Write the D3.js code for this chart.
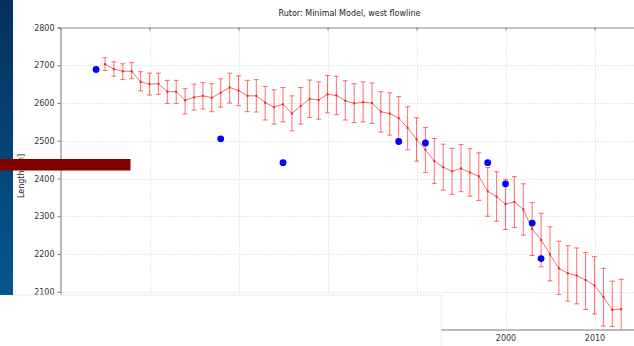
<!DOCTYPE html>
<html>
<head>
<meta charset="utf-8">
<script src="https://cdn.jsdelivr.net/npm/d3@7"></script>
<style>
  body { margin: 0; background: #fff; }
  svg { display: block; font-family: "DejaVu Sans", sans-serif; }
</style>
</head>
<body>
<div id="chart"></div>
<script>
// modelled length (red) with its uncertainty band
const modelYears = [1955,1956,1957,1958,1959,1960,1961,1962,1963,1964,
  1965,1966,1967,1968,1969,1970,1971,1972,1973,1974,
  1975,1976,1977,1978,1979,1980,1981,1982,1983,1984,
  1985,1986,1987,1988,1989,1990,1991,1992,1993,1994,
  1995,1996,1997,1998,1999,2000,2001,2002,2003,2004,
  2005,2006,2007,2008,2009,2010,2011,2012,2013]
const modelLength = [2703,2690,2684,2684,2656,2650,2651,2630,2630,2607,
  2615,2619,2614,2627,2641,2633,2619,2619,2601,2589,
  2597,2572,2592,2611,2608,2623,2620,2606,2599,2602,
  2600,2577,2572,2560,2534,2504,2476,2446,2430,2419,
  2427,2416,2406,2366,2352,2332,2338,2318,2266,2237,
  2199,2162,2149,2143,2131,2117,2086,2052,2054]
const modelUpper = [2720,2709,2704,2707,2683,2679,2679,2660,2660,2638,
  2650,2654,2651,2664,2679,2672,2660,2662,2644,2635,
  2641,2619,2641,2661,2656,2673,2671,2659,2651,2656,
  2653,2630,2627,2617,2590,2561,2535,2506,2491,2480,
  2490,2479,2468,2429,2418,2398,2405,2386,2336,2308,
  2272,2234,2222,2216,2204,2193,2162,2128,2133]
const modelLower = [2686,2671,2662,2664,2632,2621,2623,2599,2599,2571,
  2581,2584,2577,2589,2600,2593,2577,2576,2555,2544,
  2550,2526,2544,2562,2557,2574,2569,2555,2548,2550,
  2546,2523,2515,2502,2476,2446,2416,2387,2369,2358,
  2365,2353,2342,2300,2287,2265,2270,2250,2196,2166,
  2129,2093,2075,2068,2053,2041,2009,2008,1995]

// observed length (blue)
const obsYears = [1954,1968,1975,1988,1991,1998,2000,2003,2004]
const obsLength = [2689,2505,2442,2498,2494,2442,2386,2282,2188]
const obsErr = [9,0,0,0,0,0,0,0,0]

const xTicks = [1960,1970,1980,1990,2000,2010]
const yTicks = [2100,2200,2300,2400,2500,2600,2700,2800]

const W = 634, H = 346
let margin = {top: 27.5, right: -5, bottom: 16.5, left: 60.5},
    width = W - margin.left - margin.right,
    height = H - margin.top - margin.bottom

let svg = d3.select("#chart").append("svg")
    .attr("width", W).attr("height", H)
    .style("overflow", "hidden")

const x = d3.scaleLinear().domain([1950, 2015]).range([margin.left, margin.left + width])
const y = d3.scaleLinear().domain([2000, 2800]).range([margin.top + height, margin.top])

svg.append("defs").append("clipPath").attr("id", "plotclip")
    .append("rect")
    .attr("x", margin.left).attr("y", margin.top)
    .attr("width", width).attr("height", height)

// grid
const grid = svg.append("g")
grid.selectAll(".hg").data(yTicks.slice(0, -1)).join("line")
    .attr("x1", margin.left).attr("x2", margin.left + width)
    .attr("y1", d => Math.round(y(d)) + 0.5).attr("y2", d => Math.round(y(d)) + 0.5)
    .attr("stroke", "#d0d0d0").attr("stroke-dasharray", "1,2")
grid.selectAll(".vg").data(xTicks).join("line")
    .attr("y1", margin.top).attr("y2", margin.top + height)
    .attr("x1", d => Math.round(x(d)) + 0.5).attr("x2", d => Math.round(x(d)) + 0.5)
    .attr("stroke", "#d0d0d0").attr("stroke-dasharray", "1,2")

// axes
svg.append("g")
    .attr("transform", "translate(" + margin.left + ",0)")
    .call(d3.axisLeft(y).tickValues(yTicks).tickSize(3).tickPadding(3).tickFormat(d3.format("d")))
    .call(g => g.select(".domain").attr("stroke", "#777"))
    .call(g => g.selectAll(".tick line").attr("stroke", "#777"))
    .call(g => g.selectAll("text").attr("font-size", 8).attr("fill", "#333").attr("font-family", "DejaVu Sans"))

svg.append("g")
    .attr("transform", "translate(0," + margin.top + ")")
    .call(d3.axisBottom(x).tickValues(xTicks).tickSize(3).tickFormat(""))
    .call(g => g.select(".domain").attr("stroke", "#888"))
    .call(g => g.selectAll(".tick line").attr("stroke", "#777"))

svg.append("g")
    .attr("transform", "translate(0," + (margin.top + height) + ")")
    .call(d3.axisBottom(x).tickValues(xTicks).tickSize(0).tickPadding(6).tickFormat(d3.format("d")))
    .call(g => g.select(".domain").attr("stroke", "#777"))
    .call(g => g.selectAll("text").attr("font-size", 8).attr("fill", "#333").attr("font-family", "DejaVu Sans"))

// model series
const plot = svg.append("g").attr("clip-path", "url(#plotclip)")
const bars = plot.append("g").attr("stroke", "#ff2020").attr("stroke-opacity", 0.65)
modelYears.forEach((yr, i) => {
    const cx = x(yr)
    bars.append("line").attr("x1", cx).attr("x2", cx)
        .attr("y1", y(modelUpper[i])).attr("y2", y(modelLower[i]))
    bars.append("line").attr("x1", cx - 2.5).attr("x2", cx + 2.5)
        .attr("y1", y(modelUpper[i])).attr("y2", y(modelUpper[i]))
    bars.append("line").attr("x1", cx - 2.5).attr("x2", cx + 2.5)
        .attr("y1", y(modelLower[i])).attr("y2", y(modelLower[i]))
})

plot.append("path")
    .datum(modelYears.map((yr, i) => [yr, modelLength[i]]))
    .attr("fill", "none")
    .attr("stroke", "#ff3030").attr("stroke-opacity", 0.8)
    .attr("stroke-width", 0.9)
    .attr("d", d3.line().x(d => x(d[0])).y(d => y(d[1])))

plot.selectAll(".mk").data(modelYears).join("rect")
    .attr("x", d => x(d) - 1).attr("width", 2)
    .attr("y", (d, i) => y(modelLength[i]) - 1).attr("height", 2)
    .attr("fill", "#e01010").attr("opacity", 0.8)

// observations
svg.selectAll(".oe").data(obsYears).join("line")
    .attr("x1", d => x(d)).attr("x2", d => x(d))
    .attr("y1", (d, i) => y(obsLength[i] + obsErr[i]))
    .attr("y2", (d, i) => y(obsLength[i] - obsErr[i]))
    .attr("stroke", "#1010a0")
svg.selectAll(".ob").data(obsYears).join("circle")
    .attr("cx", d => x(d))
    .attr("cy", (d, i) => y(obsLength[i]))
    .attr("r", 3.4)
    .attr("fill", "#0000ff")

// title and y label
svg.append("text")
    .attr("x", 349.5).attr("y", 16)
    .attr("text-anchor", "middle")
    .attr("font-size", 8).attr("fill", "#222")
    .text("Rutor: Minimal Model, west flowline")

svg.append("text")
    .attr("transform", "translate(23.5,176) rotate(-90)")
    .attr("text-anchor", "middle")
    .attr("font-size", 8).attr("fill", "#222")
    .text("Length [m]")

// overlays sitting on top of the chart
const grad = svg.append("defs").append("linearGradient")
    .attr("id", "sidebar").attr("x1", 0).attr("x2", 0).attr("y1", 0).attr("y2", 1)
grad.append("stop").attr("offset", 0).attr("stop-color", "#06305c")
grad.append("stop").attr("offset", 1).attr("stop-color", "#06578e")

svg.append("rect")
    .attr("x", -1).attr("y", 295).attr("width", 442).attr("height", 60)
    .attr("fill", "#fff").attr("stroke", "#ececec")
svg.append("rect")
    .attr("x", 0).attr("y", 0).attr("width", 13).attr("height", 295)
    .attr("fill", "url(#sidebar)")
svg.append("rect")
    .attr("x", 0).attr("y", 159).attr("width", 130.5).attr("height", 11.5)
    .attr("fill", "#800000")
</script>
</body>
</html>
